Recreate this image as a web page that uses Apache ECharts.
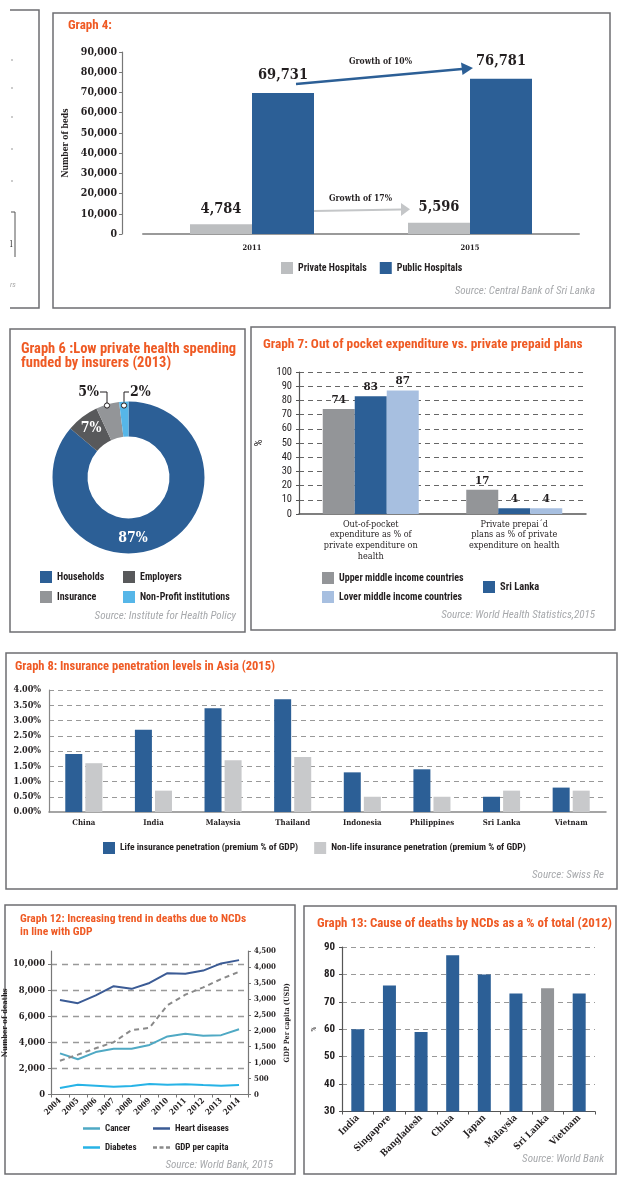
<!DOCTYPE html>
<html><head><meta charset="utf-8">
<script src="https://cdn.jsdelivr.net/npm/echarts@6/dist/echarts.min.js"></script>
<style>html,body{margin:0;padding:0;background:#fff}#c{width:620px;height:1192px}</style>
</head><body><div id="c"></div>
<script>
// ---------- DATA ----------
const g4Years = ['2011', '2015'];
const g4Private = [4784, 5596];
const g4Public = [69731, 76781];
const g4Growth = ['Growth of 10%', 'Growth of 17%'];

const g6Names = ['Households', 'Employers', 'Insurance', 'Non-Profit institutions'];
const g6Shares = [87, 7, 5, 2];

const g7Cats = ['Out-of-pocket\nexpenditure as % of\nprivate expenditure on\nhealth', 'Private prepai´d\nplans as % of private\nexpenditure on health'];
const g7Upper = [74, 17];
const g7SriLanka = [83, 4];
const g7Lower = [87, 4];

const g8Countries = ['China', 'India', 'Malaysia', 'Thailand', 'Indonesia', 'Philippines', 'Sri Lanka', 'Vietnam'];
const g8Life = [1.9, 2.7, 3.4, 3.7, 1.3, 1.4, 0.5, 0.8];
const g8NonLife = [1.6, 0.7, 1.7, 1.8, 0.5, 0.5, 0.7, 0.7];

const g12Years = ['2004', '2005', '2006', '2007', '2008', '2009', '2010', '2011', '2012', '2013', '2014'];
const g12Cancer = [3150, 2700, 3250, 3500, 3500, 3800, 4450, 4650, 4500, 4550, 5000];
const g12Heart = [7250, 7000, 7600, 8300, 8100, 8550, 9300, 9250, 9500, 10050, 10300];
const g12Diabetes = [500, 750, 680, 600, 650, 800, 750, 780, 720, 680, 720];
const g12Gdp = [1060, 1250, 1450, 1640, 2020, 2090, 2800, 3130, 3360, 3620, 3850];

const g13Countries = ['India', 'Singapore', 'Bangladesh', 'China', 'Japan', 'Malaysia', 'Sri Lanka', 'Vietnam'];
const g13Ncd = [60, 76, 59, 87, 80, 73, 75, 73];

// ---------- STYLE ----------
const SLAB = "'DejaVu Serif Condensed', 'DejaVu Serif', serif";
const COND = "'Roboto Condensed', 'Liberation Sans', sans-serif";
const ORANGE = '#ef5a24';
const BLUE = '#2c5f96';
const LGRAY = '#bcbec0';
const MGRAY = '#939598';
const DGRAY = '#58595b';
const LBLUE = '#a7bfe0';
const SKY = '#56b6e8';
const INK = '#231f20';
const BORDER = '#6d6e71';
const fmt = v => Number(v).toLocaleString('en-US');

const chart = echarts.init(document.getElementById('c'), null, { renderer: 'canvas' });

function ttl(text, left, top, size, lh) {
  return { text, left, top, padding: 0, textStyle: { color: ORANGE, fontSize: size, fontWeight: 'bold', fontFamily: COND, lineHeight: lh || size + 2 } };
}
function src(text, right, y) {
  return { type: 'text', right: 620 - right, top: y - 6, style: { text, fill: '#a7a9ac', font: 'italic 11px ' + COND } };
}
function box(x, y, w, h) {
  return { type: 'rect', shape: { x, y, width: w, height: h }, style: { fill: null, stroke: BORDER, lineWidth: 1.5 }, z: 0 };
}
function lgd(names, left, top, size, extra) {
  return Object.assign({ data: names, left, top, padding: 0, itemWidth: 12, itemHeight: 12, itemGap: 13, icon: 'rect', selectedMode: false,
    textStyle: { fontFamily: COND, fontSize: size, fontWeight: 'bold', color: INK } }, extra || {});
}
const LINE_ICON = 'path://M0,0H17V2.5H0Z';
const DASH_ICON = 'path://M0,0H4V2.5H0Z M6.5,0H10.5V2.5H6.5Z M13,0H17V2.5H13Z';
function lineLgd(name, icon, left, top) {
  return lgd([name], left, top, 9, { icon, itemWidth: 17, itemHeight: 2.5 });
}
const lbl = (fam, size, extra) => Object.assign({ fontFamily: fam, fontSize: size, fontWeight: 'bold', color: INK }, extra || {});

const option = {
  animation: false,
  backgroundColor: '#fff',
  textStyle: { fontFamily: COND },
  title: [
    ttl('Graph 4:', 68, 18, 13),
    ttl('Graph 6 :Low private health spending\nfunded by insurers (2013)', 21, 342, 14.5, 14),
    ttl('Graph 7: Out of pocket expenditure vs. private prepaid plans', 263, 337, 13.3),
    ttl('Graph 8: Insurance penetration levels in Asia (2015)', 15, 660, 12.5),
    ttl('Graph 12: Increasing trend in deaths due to NCDs\nin line with GDP', 20, 913, 11.5, 12.5),
    ttl('Graph 13: Cause of deaths by NCDs as a % of total (2012)', 317, 916, 12.9)
  ],
  legend: [
    lgd(['Private Hospitals', 'Public Hospitals'], 281, 262, 10),
    lgd([g6Names[0]], 40, 571, 10),
    lgd([g6Names[1]], 123, 571, 10),
    lgd([g6Names[2]], 40, 591, 10),
    lgd([g6Names[3]], 123, 591, 10),
    lgd(['Upper middle income countries'], 322, 572, 10),
    lgd(['Lover middle income countries'], 322, 591, 10),
    lgd(['Sri Lanka'], 483, 581, 10.5),
    lgd(['Life insurance penetration (premium % of GDP)', 'Non-life insurance penetration (premium % of GDP)'], 103, 842, 9.5, { itemGap: 16 }),
    lineLgd('Cancer', LINE_ICON, 83, 1124),
    lineLgd('Heart diseases', LINE_ICON, 153, 1124),
    lineLgd('Diabetes', LINE_ICON, 83, 1143),
    lineLgd('GDP per capita', DASH_ICON, 153, 1143)
  ],
  grid: [
    { left: 143, right: 41, top: 52, height: 182 },          // graph 4
    { left: 299, right: 34, top: 372, height: 142 },         // graph 7
    { left: 49, right: 14, top: 690, height: 122 },          // graph 8
    { left: 51, right: 372, top: 951, height: 143.5 },       // graph 12
    { left: 342, right: 25, top: 947, height: 164.5 }        // graph 13
  ],
  xAxis: [
    { gridIndex: 0, type: 'category', data: g4Years, axisLine: { lineStyle: { color: '#9a9a9a', width: 2 } }, axisTick: { show: false },
      axisLabel: lbl(SLAB, 7.5, { margin: 10 }) },
    { gridIndex: 1, type: 'category', data: g7Cats, axisLine: { lineStyle: { color: '#555', width: 1.5 } }, axisTick: { show: false },
      axisLabel: lbl(SLAB, 9, { margin: 5, lineHeight: 10.7, fontWeight: 'normal', interval: 0 }) },
    { gridIndex: 2, type: 'category', data: g8Countries, axisLine: { lineStyle: { color: '#888', width: 1.5 } }, axisTick: { show: false },
      axisLabel: lbl(SLAB, 7.8, { margin: 7, interval: 0 }) },
    { gridIndex: 3, type: 'category', data: g12Years, axisLine: { lineStyle: { color: '#777', width: 1.2 } }, axisTick: { show: true, length: 3, lineStyle: { color: '#777' } },
      axisLabel: lbl(SLAB, 8, { margin: 5, rotate: 45, interval: 0 }) },
    { gridIndex: 4, type: 'category', data: g13Countries, axisLine: { lineStyle: { color: '#555', width: 1.2 } }, axisTick: { show: true, length: 3, lineStyle: { color: '#555' } },
      axisLabel: lbl(SLAB, 9.3, { margin: 5, rotate: 45, interval: 0 }) }
  ],
  yAxis: [
    { gridIndex: 0, type: 'value', min: 0, max: 90000, interval: 10000, offset: 21,
      axisLine: { show: true, lineStyle: { color: '#777', width: 1.2 } }, axisTick: { show: true, length: 3, lineStyle: { color: '#777' } }, splitLine: { show: false },
      axisLabel: lbl(SLAB, 10.5, { margin: 5, formatter: fmt }),
      name: 'Number of beds', nameLocation: 'middle', nameGap: 51, nameTextStyle: lbl(SLAB, 8.6) },
    { gridIndex: 1, type: 'value', min: 0, max: 100, interval: 10,
      axisLine: { show: true, lineStyle: { color: '#555', width: 1.2 } }, axisTick: { show: true, length: 3, lineStyle: { color: '#555' } },
      splitLine: { show: true, showMinLine: false, lineStyle: { color: '#666', type: [5, 4], width: 1 } },
      axisLabel: lbl(COND, 10.5, { margin: 7, fontWeight: 'normal' }),
      name: '%', nameLocation: 'middle', nameGap: 34, nameTextStyle: lbl(COND, 11, { fontWeight: 'normal' }) },
    { gridIndex: 2, type: 'value', min: 0, max: 4, interval: 0.5,
      axisLine: { show: true, lineStyle: { color: '#888', width: 1.2 } }, axisTick: { show: false },
      splitLine: { show: true, showMinLine: false, lineStyle: { color: '#999', type: [5, 4], width: 1.2 } },
      axisLabel: lbl(SLAB, 9, { margin: 8, formatter: v => v.toFixed(2) + '%' }) },
    { gridIndex: 3, type: 'value', min: 0, max: 11000, interval: 2000,
      axisLine: { show: true, lineStyle: { color: '#777', width: 1.2 } }, axisTick: { show: true, length: 3, lineStyle: { color: '#777' } },
      splitLine: { show: true, showMinLine: false, showMaxLine: false, lineStyle: { color: '#999', type: [6, 5], width: 1.3 } },
      axisLabel: lbl(SLAB, 9.3, { margin: 6, formatter: fmt, showMaxLabel: false }),
      name: 'Number of deaths', nameLocation: 'middle', nameGap: 35, nameTextStyle: lbl(SLAB, 7.6) },
    { gridIndex: 3, type: 'value', position: 'right', min: 0, max: 4500, interval: 500,
      axisLine: { show: true, lineStyle: { color: '#777', width: 1.2 } }, axisTick: { show: true, length: 3, lineStyle: { color: '#777' } }, splitLine: { show: false },
      axisLabel: lbl(SLAB, 7.8, { margin: 6, formatter: fmt }),
      name: 'GDP Per capita (USD)', nameLocation: 'middle', nameGap: 36, nameTextStyle: lbl(SLAB, 7.2) },
    { gridIndex: 4, type: 'value', min: 30, max: 90, interval: 10,
      axisLine: { show: true, lineStyle: { color: '#555', width: 1.2 } }, axisTick: { show: true, length: 3, lineStyle: { color: '#555' } },
      splitLine: { show: true, showMinLine: false, lineStyle: { color: '#999', type: [5, 4], width: 1.2 } },
      axisLabel: lbl(COND, 11, { margin: 7 }),
      name: '%', nameLocation: 'middle', nameGap: 24, nameTextStyle: lbl(COND, 8, { fontWeight: 'normal' }) }
  ],
  series: [
    // Graph 4
    { name: 'Private Hospitals', type: 'bar', xAxisIndex: 0, yAxisIndex: 0, data: g4Private, barWidth: 62, barGap: '0%', itemStyle: { color: LGRAY },
      label: { show: true, position: 'top', distance: 8, formatter: p => fmt(p.value), fontFamily: SLAB, fontSize: 14.5, fontWeight: 'bold', color: INK } },
    { name: 'Public Hospitals', type: 'bar', xAxisIndex: 0, yAxisIndex: 0, data: g4Public, barWidth: 62, barGap: '0%', itemStyle: { color: BLUE },
      label: { show: true, position: 'top', distance: 10, formatter: p => fmt(p.value), fontFamily: SLAB, fontSize: 14.5, fontWeight: 'bold', color: INK } },
    // Graph 6
    { type: 'pie', center: [128.5, 477.5], radius: [41, 76], startAngle: 90, clockwise: true,
      data: g6Names.map((n, i) => {
        const colors = [BLUE, DGRAY, MGRAY, SKY];
        const o = { name: n, value: g6Shares[i], itemStyle: { color: colors[i] } };
        if (i >= 2) { o.label = { position: 'outside', color: INK }; o.labelLine = { show: true, lineStyle: { color: INK, width: 1 } }; }
        return o;
      }),
      label: { show: true, position: 'inside', formatter: '{c}%', color: '#fff', fontFamily: SLAB, fontSize: 14, fontWeight: 'bold' },
      labelLine: { show: false },
      labelLayout: function (p) {
        if (p.dataIndex === 2) return { x: 99, y: 392, align: 'right', verticalAlign: 'middle', labelLinePoints: [[107, 403], [107, 392], [100, 392]] };
        if (p.dataIndex === 3) return { x: 130, y: 392, align: 'left', verticalAlign: 'middle', labelLinePoints: [[124, 403], [124, 392], [129, 392]] };
        if (p.dataIndex === 0) return { x: 133, y: 538, align: 'center', verticalAlign: 'middle' };
        return {};
      },
      emphasis: { disabled: true } },
    // Graph 7
    { name: 'Upper middle income countries', type: 'bar', xAxisIndex: 1, yAxisIndex: 1, data: g7Upper, barWidth: 32, barGap: '0%', itemStyle: { color: MGRAY },
      label: { show: true, position: 'top', distance: 3, fontFamily: SLAB, fontSize: 11.5, fontWeight: 'bold', color: INK } },
    { name: 'Sri Lanka', type: 'bar', xAxisIndex: 1, yAxisIndex: 1, data: g7SriLanka, barWidth: 32, barGap: '0%', itemStyle: { color: BLUE },
      label: { show: true, position: 'top', distance: 3, fontFamily: SLAB, fontSize: 11.5, fontWeight: 'bold', color: INK } },
    { name: 'Lover middle income countries', type: 'bar', xAxisIndex: 1, yAxisIndex: 1, data: g7Lower, barWidth: 32, barGap: '0%', itemStyle: { color: LBLUE },
      label: { show: true, position: 'top', distance: 3, fontFamily: SLAB, fontSize: 11.5, fontWeight: 'bold', color: INK } },
    // Graph 8
    { name: 'Life insurance penetration (premium % of GDP)', type: 'bar', xAxisIndex: 2, yAxisIndex: 2, data: g8Life, barWidth: 17, barGap: '18%', itemStyle: { color: BLUE } },
    { name: 'Non-life insurance penetration (premium % of GDP)', type: 'bar', xAxisIndex: 2, yAxisIndex: 2, data: g8NonLife, barWidth: 17, barGap: '18%', itemStyle: { color: '#c8c9cb' } },
    // Graph 12
    { name: 'Cancer', type: 'line', xAxisIndex: 3, yAxisIndex: 3, data: g12Cancer, symbol: 'none', lineStyle: { color: '#4fa9c4', width: 2 }, itemStyle: { color: '#4fa9c4' } },
    { name: 'Heart diseases', type: 'line', xAxisIndex: 3, yAxisIndex: 3, data: g12Heart, symbol: 'none', lineStyle: { color: '#3b5b95', width: 2 }, itemStyle: { color: '#3b5b95' } },
    { name: 'Diabetes', type: 'line', xAxisIndex: 3, yAxisIndex: 3, data: g12Diabetes, symbol: 'none', lineStyle: { color: '#27b3e6', width: 2 }, itemStyle: { color: '#27b3e6' } },
    { name: 'GDP per capita', type: 'line', xAxisIndex: 3, yAxisIndex: 4, data: g12Gdp, symbol: 'none', lineStyle: { color: '#8a8a8a', width: 2, type: [5, 4] }, itemStyle: { color: '#8a8a8a' } },
    // Graph 13
    { name: 'NCD share', type: 'bar', xAxisIndex: 4, yAxisIndex: 5, data: g13Ncd, barWidth: 13,
      itemStyle: { color: p => (g13Countries[p.dataIndex] === 'Sri Lanka' ? MGRAY : BLUE) } }
  ],
  graphic: [
    // panel borders
    { type: 'polyline', shape: { points: [[10, 10], [39, 10], [39, 308], [10, 308]] }, style: { fill: null, stroke: BORDER, lineWidth: 1.5 } },
    box(53, 13, 557, 295),
    box(10, 329, 235, 303),
    box(251, 327, 364, 303),
    box(6, 653, 611, 236),
    box(5, 905, 290, 269),
    box(304, 906, 312, 268),
    // fragments of the cropped panel on the far left
    ...[60, 88, 117, 149, 181].map(y => ({ type: 'line', shape: { x1: 11, y1: y, x2: 13, y2: y }, style: { stroke: '#999', lineWidth: 1 } })),
    { type: 'polyline', shape: { points: [[11, 212], [15, 212], [15, 257]] }, style: { fill: null, stroke: '#555', lineWidth: 1 } },
    { type: 'text', left: 10, top: 240, style: { text: 'l', fill: '#333', font: '9px ' + SLAB } },
    { type: 'text', left: 10, top: 281, style: { text: 'rs', fill: '#aaa', font: 'italic 8px ' + COND } },
    // Graph 4 growth arrows
    { type: 'line', shape: { x1: 296, y1: 84, x2: 462, y2: 69 }, style: { stroke: BLUE, lineWidth: 2.5 } },
    { type: 'polygon', shape: { points: [[473, 68], [461, 62.5], [462.5, 75]] }, style: { fill: BLUE } },
    { type: 'text', left: 349, top: 57, style: { text: g4Growth[0], fill: INK, font: 'bold 8.5px ' + SLAB } },
    { type: 'line', shape: { x1: 314, y1: 211, x2: 401, y2: 209.5 }, style: { stroke: '#c4c6c8', lineWidth: 2 } },
    { type: 'polygon', shape: { points: [[410, 209.3], [401, 203], [401, 216]] }, style: { fill: '#c4c6c8' } },
    { type: 'text', left: 329, top: 194, style: { text: g4Growth[1], fill: INK, font: 'bold 8.5px ' + SLAB } },
    // Graph 6 leader dots
    { type: 'circle', shape: { cx: 107, cy: 405.5, r: 2.6 }, style: { fill: '#fff', stroke: INK, lineWidth: 1 }, z: 100 },
    { type: 'circle', shape: { cx: 124, cy: 405.5, r: 2.6 }, style: { fill: '#fff', stroke: INK, lineWidth: 1 }, z: 100 },
    // sources
    src('Source: Central Bank of Sri Lanka', 595, 292),
    src('Source: Institute for Health Policy', 236, 617),
    src('Source: World Health Statistics,2015', 595, 616),
    src('Source: Swiss Re', 604, 876),
    src('Source: World Bank, 2015', 273, 1166),
    src('Source: World Bank', 604, 1160)
  ]
};
chart.setOption(option);
</script></body></html>
